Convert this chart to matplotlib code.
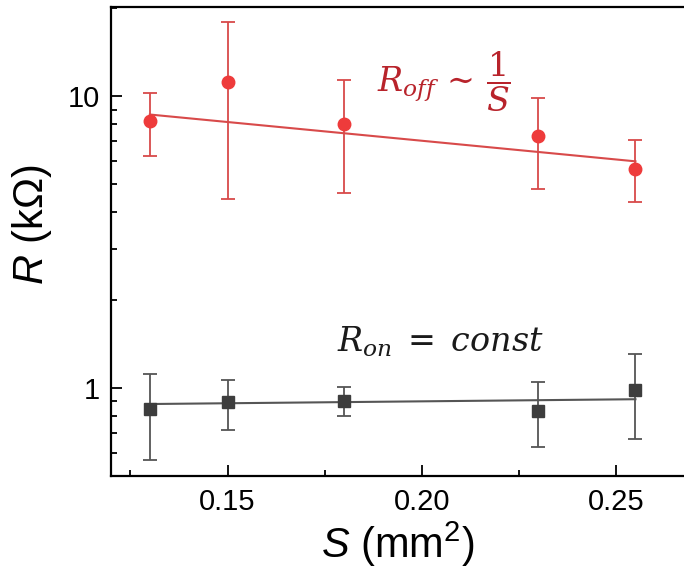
import matplotlib
matplotlib.use("Agg")
from matplotlib import pyplot as plt
from matplotlib.ticker import FixedLocator, NullFormatter, FormatStrFormatter

# area of the device (mm^2)
S = [0.13, 0.15, 0.18, 0.23, 0.255]

# off-state resistance (kOhm) with lower / upper error bar ends
r_off = [8.24, 11.2, 8.04, 7.29, 5.64]
r_off_lo = [6.23, 4.43, 4.67, 4.82, 4.34]
r_off_hi = [10.28, 17.9, 11.4, 9.84, 7.05]

# on-state resistance (kOhm)
r_on = [0.845, 0.895, 0.90, 0.838, 0.987]
r_on_lo = [0.568, 0.719, 0.804, 0.63, 0.671]
r_on_hi = [1.12, 1.07, 1.005, 1.046, 1.31]

# fitted lines (end points)
fit_x = [0.13, 0.255]
fit_off = [8.65, 5.98]
fit_on = [0.882, 0.916]

plt.rcParams['font.family'] = ['Liberation Sans', 'DejaVu Sans']
plt.rcParams['mathtext.fontset'] = 'custom'
plt.rcParams['mathtext.rm'] = 'Liberation Sans'
plt.rcParams['mathtext.it'] = 'Liberation Sans:italic'

fig = plt.figure(figsize=(6.84, 5.73), dpi=100)
ax = fig.add_axes([0.1623, 0.1693, 0.8377, 0.8185])

def err(v, lo, hi):
    return [[a - b for a, b in zip(v, lo)], [c - a for a, c in zip(v, hi)]]

red = '#ee3b3b'
red_line = '#d84a4a'
gray = '#3d3d3d'
gray_line = '#555555'

ax.plot(fit_x, fit_off, color=red_line, lw=1.5, zorder=2)
ax.errorbar(S, r_off, yerr=err(r_off, r_off_lo, r_off_hi), fmt='o', color=red,
            ecolor=red_line, elinewidth=1.3, capsize=5, capthick=1.3, ms=9, zorder=3)

ax.plot(fit_x, fit_on, color=gray_line, lw=1.5, zorder=2)
ax.errorbar(S, r_on, yerr=err(r_on, r_on_lo, r_on_hi), fmt='s', color=gray,
            ecolor=gray_line, elinewidth=1.3, capsize=5, capthick=1.3, ms=8.5, zorder=3)

ax.set_yscale('log')
ax.set_xlim(0.12, 0.2675)
ax.set_ylim(0.5, 20.2)

ax.xaxis.set_major_locator(FixedLocator([0.15, 0.20, 0.25]))
ax.xaxis.set_minor_locator(FixedLocator([0.125, 0.175, 0.225]))
ax.xaxis.set_major_formatter(FormatStrFormatter('%.2f'))
ax.yaxis.set_major_locator(FixedLocator([1, 10]))
ax.yaxis.set_major_formatter(FormatStrFormatter('%g'))
ax.yaxis.set_minor_formatter(NullFormatter())

ax.tick_params(which='both', direction='in', top=False, right=False, width=1.3,
               labelsize=21)
ax.tick_params(which='major', length=8)
ax.tick_params(which='minor', length=4.5)
ax.tick_params(axis='x', pad=9)
ax.tick_params(axis='y', pad=8)

for side in ['left', 'bottom', 'top']:
    ax.spines[side].set_linewidth(1.6)
ax.spines['right'].set_visible(False)

ax.set_xlabel(r'$S$ (mm$^2$)', fontsize=30, labelpad=2)
ax.set_ylabel(r'$R$ (k$\Omega$)', fontsize=30)
ax.yaxis.set_label_coords(-0.10, 0.535)

ax.text(0.464, 0.84, r'$R_{off}\,\sim\,\dfrac{1}{S}$', transform=ax.transAxes,
        fontsize=24, color='#b8232b', ha='left', va='center',
        math_fontfamily='dejavuserif')
ax.text(0.394, 0.286, r'$R_{on}\;=\;const$', transform=ax.transAxes,
        fontsize=24, color='#1a1a1a', ha='left', va='center',
        math_fontfamily='dejavuserif')

fig.savefig('out.png', dpi=100)
